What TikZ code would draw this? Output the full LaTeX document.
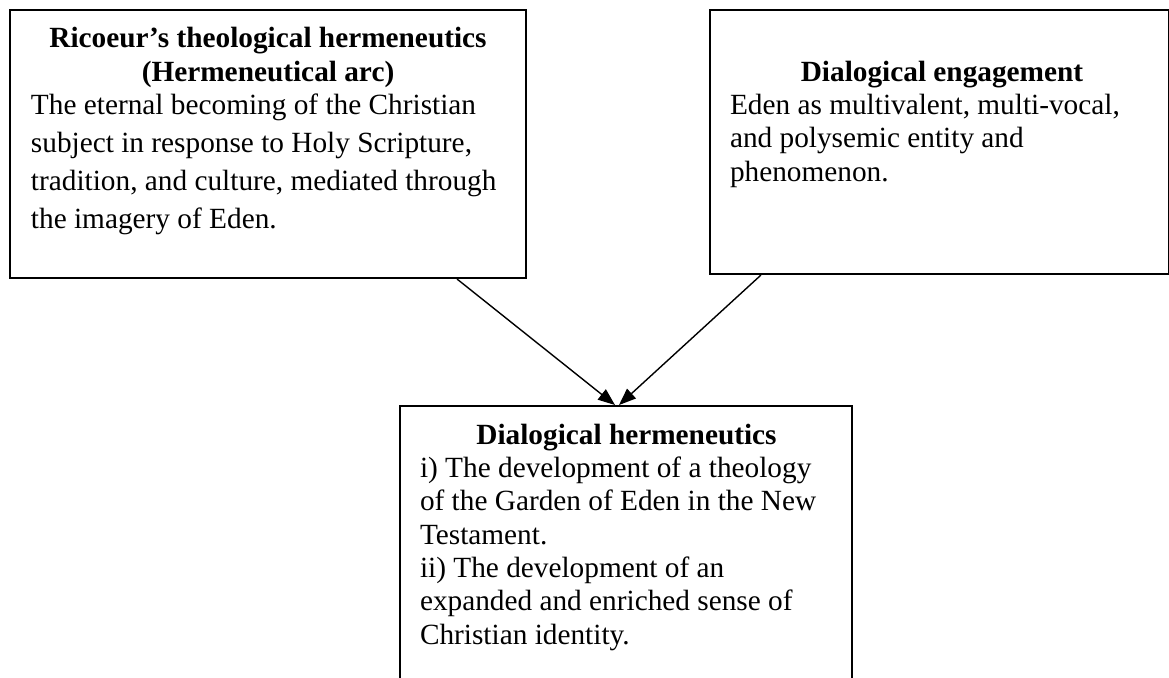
\documentclass[tikz,border=0pt]{standalone}
\usepackage{fontspec}
\setmainfont{Liberation Serif}
\usetikzlibrary{arrows.meta}

\begin{document}
\begin{tikzpicture}[
  x=0.5pt, y=-0.5pt,
  panel/.style={draw=black, line width=1pt, inner ysep=0pt, anchor=north west},
  link/.style={-{Triangle[length=8.5pt,width=6.5pt]}, line width=0.7pt, draw=black}
]
\clip (0,0) rectangle (1169,677);

% Upper left panel
\node[panel, inner xsep=10.5pt, text height=18.5pt, text depth=115.5pt] (ricoeur) at (9,9)
  {\parbox[t]{237pt}{\fontsize{14.65}{17}\selectfont\centering
   \textbf{Ricoeur’s theological hermeneutics}\\\textbf{(Hermeneutical arc)}\par
   \raggedright\fontsize{14.65}{19.15}\selectfont\vspace{-2.65pt}%
   The eternal becoming of the Christian\\subject in response to Holy Scripture,\\
   tradition, and culture, mediated through\\the imagery of Eden.}};

% Upper right panel
\node[panel, inner xsep=10pt, text height=35.5pt, text depth=96.5pt] (engage) at (709,9)
  {\parbox[t]{212pt}{\fontsize{14.65}{16.7}\selectfont\centering
   \textbf{Dialogical engagement}\par
   \raggedright Eden as multivalent, multi-vocal,\\and polysemic entity and\\phenomenon.}\hspace*{-2.5pt}};

% Lower panel
\node[panel, inner xsep=10pt, text height=19pt, text depth=123.5pt] (dialog) at (399,405)
  {\parbox[t]{206.5pt}{\fontsize{14.65}{16.67}\selectfont\centering
   \textbf{Dialogical hermeneutics}\par
   \raggedright i) The development of a theology\\of the Garden of Eden in the New\\
   Testament.\\ii) The development of an\\expanded and enriched sense of\\
   Christian identity.}\hspace*{-0.5pt}};

% Arrows
\draw[link] ([xshift=-35pt]ricoeur.south east) -- ([xshift=108pt]dialog.north west);
\draw[link] ([xshift=26pt]engage.south west) -- ([xshift=110pt]dialog.north west);
\end{tikzpicture}
\end{document}
